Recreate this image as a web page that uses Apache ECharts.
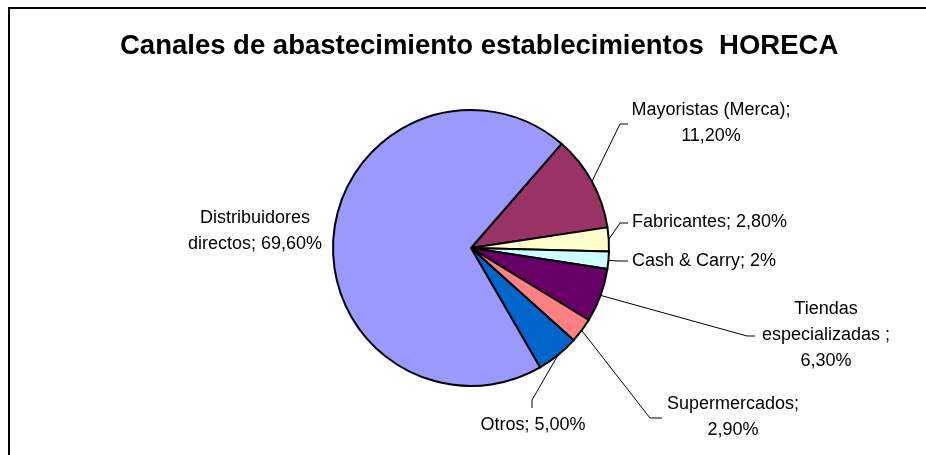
<!DOCTYPE html>
<html>
<head>
<meta charset="utf-8">
<script src="https://cdn.jsdelivr.net/npm/echarts@6/dist/echarts.min.js"></script>
<style>
html, body { margin: 0; padding: 0; background: #fff; }
#chart { width: 926px; height: 455px; }
</style>
</head>
<body>
<div id="chart"></div>
<script>
// ---- data ----
const chartTitle = 'Canales de abastecimiento establecimientos  HORECA';
const categories = ['Mayoristas (Merca)', 'Fabricantes', 'Cash & Carry', 'Tiendas especializadas ', 'Supermercados', 'Otros', 'Distribuidores directos'];
const values = [11.2, 2.8, 2, 6.3, 2.9, 5.0, 69.6];
const valueLabels = ['11,20%', '2,80%', '2%', '6,30%', '2,90%', '5,00%', '69,60%'];
const labelTexts = ['Mayoristas (Merca);\n11,20%', 'Fabricantes; 2,80%', 'Cash & Carry; 2%', 'Tiendas\nespecializadas ;\n6,30%', 'Supermercados;\n2,90%', 'Otros; 5,00%', 'Distribuidores\ndirectos; 69,60%'];

// ---- styles / layout ----
const colors = ['#993366', '#FFFFCC', '#CCFFFF', '#660066', '#FF8080', '#0066CC', '#9999FF'];
const labelLayoutSpec = [
  { x: 711, y: 123, align: 'center', line: [[620, 124], [628, 124]] },
  { x: 632, y: 222, align: 'left', line: [[620, 223], [628, 223]] },
  { x: 632, y: 261, align: 'left', line: [[618, 261], [628, 261]] },
  { x: 826, y: 335, align: 'center', line: [[747, 336], [755, 336]] },
  { x: 733, y: 417, align: 'center', line: [[650, 418], [662, 418]] },
  { x: 533, y: 425, align: 'center', line: [[532, 400], [532, 408]] },
  { x: 255, y: 231, align: 'center', line: null }
];

const chart = echarts.init(document.getElementById('chart'), null, { renderer: 'canvas' });

const seriesData = categories.map(function (name, i) {
  const item = {
    name: name,
    value: values[i],
    itemStyle: { color: colors[i] }
  };
  if (!labelLayoutSpec[i].line) item.labelLine = { show: false };
  return item;
});

chart.setOption({
  animation: false,
  backgroundColor: '#ffffff',
  title: {
    text: chartTitle,
    left: 115,
    top: 27,
    textStyle: {
      fontFamily: 'Liberation Sans',
      fontWeight: 'bold',
      fontSize: 27.5,
      color: '#000'
    }
  },
  graphic: [{
    type: 'rect',
    shape: { x: 9, y: 8, width: 940, height: 470 },
    style: { fill: 'none', stroke: '#000', lineWidth: 2 },
    silent: true
  }],
  series: [{
    type: 'pie',
    center: [471, 248],
    radius: 138,
    startAngle: 49,
    clockwise: true,
    avoidLabelOverlap: false,
    silent: true,
    data: seriesData,
    itemStyle: { borderColor: '#000', borderWidth: 2 },
    label: {
      show: true,
      position: 'outside',
      formatter: function (p) { return labelTexts[p.dataIndex]; },
      fontFamily: 'Liberation Sans',
      fontSize: 18,
      lineHeight: 26,
      color: '#000'
    },
    labelLine: {
      show: true,
      length: 10,
      length2: 10,
      lineStyle: { color: '#000', width: 1 }
    },
    labelLayout: function (params) {
      const L = labelLayoutSpec[params.dataIndex];
      const out = { x: L.x, y: L.y, align: L.align, verticalAlign: 'middle' };
      if (L.line && params.labelLinePoints) {
        out.labelLinePoints = [params.labelLinePoints[0], L.line[0], L.line[1]];
      }
      return out;
    },
    emphasis: { disabled: true }
  }]
});
</script>
</body>
</html>
